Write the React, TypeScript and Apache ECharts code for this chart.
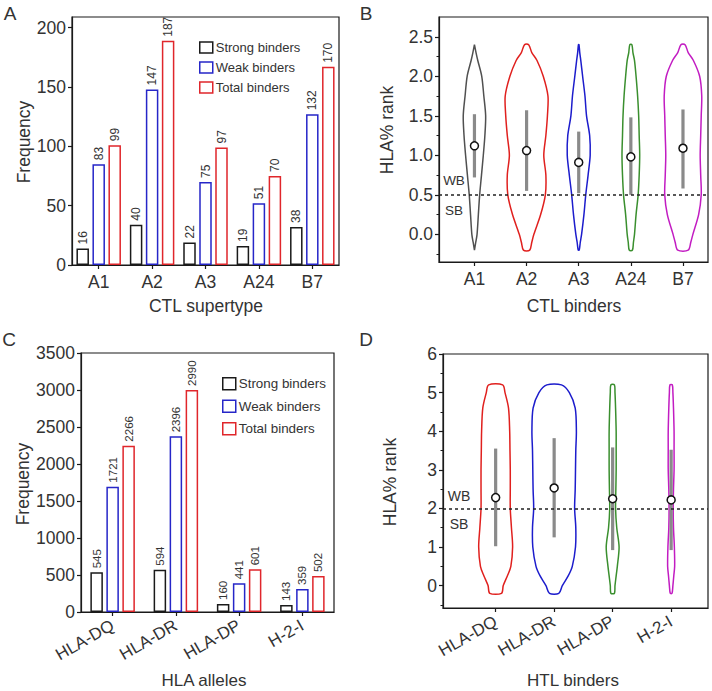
import React, { useEffect, useRef } from "react";
import * as echarts from "echarts";

// ---------- Panel A data ----------
const ctlCategories = ["A1", "A2", "A3", "A24", "B7"];
const ctlStrongBars = [14, 34, 19, 16, 32];
const ctlWeakBars = [85, 148, 70, 52, 127];
const ctlTotalBars = [101, 189, 99, 75, 167];
const ctlStrongLabels = [16, 40, 22, 19, 38];
const ctlWeakLabels = [83, 147, 75, 51, 132];
const ctlTotalLabels = [99, 187, 97, 70, 170];
const ctlFreqTicks = [0, 50, 100, 150, 200];

// ---------- Panel C data ----------
const htlCategories = ["HLA-DQ", "HLA-DR", "HLA-DP", "H-2-I"];
const htlStrongBars = [536, 572, 108, 95];
const htlWeakBars = [1694, 2374, 388, 311];
const htlTotalBars = [2248, 3000, 577, 486];
const htlStrongLabels = [545, 594, 160, 143];
const htlWeakLabels = [1721, 2396, 441, 359];
const htlTotalLabels = [2266, 2990, 601, 502];

// ---------- Panel B data (violins) ----------
const ctlRankTicks = [0, 0.5, 1, 1.5, 2, 2.5];
const ctlRankMinorTicks = [-0.25, 0.25, 0.75, 1.25, 1.75, 2.25];
const ctlViolinLevels = [-0.2, -0.1, 0, 0.25, 0.5, 0.75, 1.0, 1.25, 1.5, 1.75, 2.0, 2.2, 2.3, 2.4];
const a1Half = [0, 0.025, 0.05, 0.075, 0.1, 0.135, 0.17, 0.2, 0.215, 0.18, 0.14, 0.064, 0.03, 0];
const a2Half = [0.06, 0.1, 0.14, 0.27, 0.36, 0.37, 0.33, 0.37, 0.4, 0.41, 0.32, 0.2, 0.1, 0.04];
const a3Half = [0.01, 0.03, 0.055, 0.1, 0.135, 0.18, 0.22, 0.21, 0.15, 0.12, 0.075, 0.04, 0.02, 0.005];
const a24Half = [0.03, 0.05, 0.07, 0.1, 0.14, 0.16, 0.17, 0.16, 0.15, 0.13, 0.1, 0.07, 0.04, 0.02];
const b7Half = [0.1, 0.15, 0.19, 0.3, 0.35, 0.34, 0.33, 0.34, 0.35, 0.36, 0.32, 0.2, 0.1, 0.04];
const ctlViolinHalves = [a1Half, a2Half, a3Half, a24Half, b7Half];
const ctlViolinColors = ["#505050", "#e0201e", "#1c1ccc", "#3a8f2e", "#c21cc2"];
const ctlBoxLow = [0.72, 0.55, 0.52, 0.5, 0.58];
const ctlBoxHigh = [1.52, 1.57, 1.3, 1.48, 1.58];
const ctlMedian = [1.12, 1.06, 0.91, 0.98, 1.09];
const ctlThreshold = 0.5;

// ---------- Panel D data (violins) ----------
const htlRankTicks = [0, 1, 2, 3, 4, 5, 6];
const htlRankMinorTicks = [-0.5, 0.5, 1.5, 2.5, 3.5, 4.5, 5.5];
const htlViolinLevels = [-0.2, 0, 0.25, 0.5, 1, 1.5, 2, 2.5, 3, 3.5, 4, 4.6, 5.0, 5.2];
const dqHalf = [0.1, 0.13, 0.2, 0.26, 0.29, 0.27, 0.25, 0.25, 0.25, 0.245, 0.24, 0.22, 0.16, 0.12];
const drHalf = [0.08, 0.14, 0.24, 0.31, 0.365, 0.37, 0.35, 0.36, 0.365, 0.37, 0.38, 0.36, 0.26, 0.125];
const dpHalf = [0.03, 0.04, 0.06, 0.08, 0.11, 0.07, 0.05, 0.055, 0.06, 0.06, 0.06, 0.05, 0.04, 0.03];
const h2iHalf = [0.015, 0.03, 0.045, 0.06, 0.055, 0.04, 0.035, 0.04, 0.05, 0.05, 0.05, 0.04, 0.03, 0.02];
const htlViolinHalves = [dqHalf, drHalf, dpHalf, h2iHalf];
const htlViolinColors = ["#e0201e", "#1c1ccc", "#3a8f2e", "#c21cc2"];
const htlBoxLow = [1.02, 1.25, 0.92, 0.92];
const htlBoxHigh = [3.55, 3.82, 3.58, 3.52];
const htlMedian = [2.28, 2.53, 2.25, 2.22];
const htlThreshold = 2;

const FONT = '"Liberation Sans", Arial, sans-serif';
const TXT = "#333";
const AX = "#1a1a1a";
const STRONG = "#1a1a1a";
const WEAK = "#2626c8";
const TOTAL = "#e0262b";
const TICK_FS = 17.5;
const TITLE_FS = 17.5;

function barSeries(name: string, color: string, data: number[], labels: number[], xi: number, fs: number) {
  return {
    type: "bar",
    name,
    xAxisIndex: xi,
    yAxisIndex: xi,
    data,
    barWidth: 12.5,
    barGap: "28%",
    itemStyle: { color: "#fff", borderColor: color, borderWidth: 1.5 },
    label: {
      show: true,
      position: "top",
      rotate: 90,
      align: "left",
      verticalAlign: "middle",
      distance: 4,
      fontSize: fs,
      fontFamily: FONT,
      color: TXT,
      formatter: (p: any) => String(labels[p.dataIndex]),
    },
  };
}

function violinSeries(
  xi: number,
  levels: number[],
  halves: number[][],
  colors: string[],
  low: number[],
  high: number[],
  med: number[],
  threshold: number
) {
  return {
    type: "custom",
    coordinateSystem: "cartesian2d",
    xAxisIndex: xi,
    yAxisIndex: xi,
    data: med.map((m, i) => [i + 1, m]),
    renderItem: (params: any, api: any) => {
      const i = params.dataIndex;
      const x = i + 1;
      const h = halves[i];
      const pts: number[][] = [];
      for (let k = 0; k < levels.length; k++) pts.push(api.coord([x + h[k], levels[k]]));
      for (let k = levels.length - 1; k >= 0; k--) pts.push(api.coord([x - h[k], levels[k]]));
      const b0 = api.coord([x, low[i]]);
      const b1 = api.coord([x, high[i]]);
      const c = api.coord([x, med[i]]);
      return {
        type: "group",
        children: [
          {
            type: "polygon",
            shape: { points: pts, smooth: 0.3 },
            style: { fill: "transparent", stroke: colors[i], lineWidth: 1.5 },
          },
          {
            type: "line",
            shape: { x1: b0[0], y1: b0[1], x2: b1[0], y2: b1[1] },
            style: { stroke: "#8a8a8a", lineWidth: 3.2 },
          },
          {
            type: "circle",
            shape: { cx: c[0], cy: c[1], r: 4 },
            style: { fill: "#fff", stroke: "#111", lineWidth: 1.5 },
          },
        ],
      };
    },
    markLine: {
      silent: true,
      symbol: "none",
      label: { show: false },
      lineStyle: { type: [3, 3], color: "#222", width: 1.5 },
      data: [{ yAxis: threshold }],
    },
  };
}

function txt(text: string, x: number, y: number, size: number, rot = 0, align = "center") {
  return {
    type: "text",
    x,
    y,
    rotation: rot,
    style: {
      text,
      fill: TXT,
      fontSize: size,
      fontFamily: FONT,
      textAlign: align,
      textVerticalAlign: "middle",
      align,
      verticalAlign: "middle",
    },
  };
}

const axisLineStyle = { show: true, onZero: false, lineStyle: { color: AX, width: 1.2 } };
const tickStyle = { show: true, length: 4, lineStyle: { color: AX, width: 1.2 } };
const labelStyle = { fontSize: TICK_FS, fontFamily: FONT, color: TXT };

export default function App() {
  const ref = useRef<HTMLDivElement>(null);
  useEffect(() => {
    if (!ref.current) return;
    const chart = echarts.init(ref.current, null, { renderer: "svg" });
    const gridBase = { show: true, borderColor: AX, borderWidth: 1.2, backgroundColor: "transparent", containLabel: false };
    const minorAxis = (gi: number, min: number, max: number, vals: number[]) => ({
      gridIndex: gi,
      type: "value",
      position: "left",
      offset: 0,
      min,
      max,
      axisLine: { show: false },
      axisTick: { show: true, length: 2.5, lineStyle: { color: AX, width: 1 }, customValues: vals },
      axisLabel: { show: false },
      splitLine: { show: false },
    });
    const option: any = {
      animation: false,
      backgroundColor: "#fff",
      grid: [
        { ...gridBase, left: 72, top: 17, width: 267, height: 248 },
        { ...gridBase, left: 439, top: 17, width: 269, height: 245 },
        { ...gridBase, left: 81, top: 353, width: 253, height: 259 },
        { ...gridBase, left: 443, top: 354, width: 265, height: 254 },
      ],
      xAxis: [
        {
          gridIndex: 0,
          type: "category",
          data: ctlCategories,
          axisLine: axisLineStyle,
          axisTick: { ...tickStyle, alignWithLabel: true },
          axisLabel: { ...labelStyle, margin: 8 },
          splitLine: { show: false },
        },
        {
          gridIndex: 1,
          type: "value",
          min: 0.32,
          max: 5.48,
          axisLine: axisLineStyle,
          axisTick: { ...tickStyle, customValues: [1, 2, 3, 4, 5] },
          axisLabel: {
            ...labelStyle,
            margin: 8,
            customValues: [1, 2, 3, 4, 5],
            formatter: (v: number) => ctlCategories[Math.round(v) - 1] || "",
          },
          splitLine: { show: false },
        },
        {
          gridIndex: 2,
          type: "category",
          data: htlCategories,
          axisLine: axisLineStyle,
          axisTick: { ...tickStyle, alignWithLabel: true },
          axisLabel: { ...labelStyle, fontSize: 17, rotate: 30, margin: 12 },
          splitLine: { show: false },
        },
        {
          gridIndex: 3,
          type: "value",
          min: 0.1,
          max: 4.63,
          axisLine: axisLineStyle,
          axisTick: { ...tickStyle, customValues: [1, 2, 3, 4] },
          axisLabel: {
            ...labelStyle,
            fontSize: 17,
            rotate: 30,
            margin: 12,
            customValues: [1, 2, 3, 4],
            formatter: (v: number) => htlCategories[Math.round(v) - 1] || "",
          },
          splitLine: { show: false },
        },
      ],
      yAxis: [
        {
          gridIndex: 0,
          type: "value",
          position: "left",
          min: 0,
          max: 209,
          axisLine: axisLineStyle,
          axisTick: { ...tickStyle, customValues: ctlFreqTicks },
          axisLabel: { ...labelStyle, margin: 6, customValues: ctlFreqTicks },
          splitLine: { show: false },
        },
        {
          gridIndex: 1,
          type: "value",
          position: "left",
          min: -0.35,
          max: 2.75,
          axisLine: axisLineStyle,
          axisTick: { ...tickStyle, customValues: ctlRankTicks },
          axisLabel: {
            ...labelStyle,
            margin: 6,
            customValues: ctlRankTicks,
            formatter: (v: number) => v.toFixed(1),
          },
          splitLine: { show: false },
        },
        {
          gridIndex: 2,
          type: "value",
          position: "left",
          min: 0,
          max: 3500,
          interval: 500,
          axisLine: axisLineStyle,
          axisTick: tickStyle,
          axisLabel: { ...labelStyle, margin: 6, formatter: (v: number) => String(v) },
          splitLine: { show: false },
        },
        {
          gridIndex: 3,
          type: "value",
          position: "left",
          min: -0.58,
          max: 6,
          axisLine: axisLineStyle,
          axisTick: { ...tickStyle, customValues: htlRankTicks },
          axisLabel: { ...labelStyle, margin: 6, customValues: htlRankTicks, formatter: (v: number) => String(v) },
          splitLine: { show: false },
        },
        minorAxis(1, -0.35, 2.75, ctlRankMinorTicks),
        minorAxis(3, -0.58, 6, htlRankMinorTicks),
      ],
      legend: [
        {
          left: 194,
          top: 36,
          orient: "vertical",
          itemWidth: 13,
          itemHeight: 11,
          itemGap: 7,
          icon: "rect",
          data: ["Strong binders", "Weak binders", "Total binders"],
          textStyle: { fontSize: 13, fontFamily: FONT, color: TXT, padding: [0, 0, 0, -2] },
          itemStyle: { borderWidth: 1.5 },
          selectedMode: false,
        },
        {
          left: 217,
          top: 372,
          orient: "vertical",
          itemWidth: 13,
          itemHeight: 12,
          itemGap: 9,
          icon: "rect",
          data: ["Strong binders", "Weak binders", "Total binders"],
          textStyle: { fontSize: 13.4, fontFamily: FONT, color: TXT, padding: [0, 0, 0, -2] },
          itemStyle: { borderWidth: 1.5 },
          selectedMode: false,
        },
      ],
      series: [
        barSeries("Strong binders", STRONG, ctlStrongBars, ctlStrongLabels, 0, 12),
        barSeries("Weak binders", WEAK, ctlWeakBars, ctlWeakLabels, 0, 12),
        barSeries("Total binders", TOTAL, ctlTotalBars, ctlTotalLabels, 0, 12),
        barSeries("Strong binders", STRONG, htlStrongBars, htlStrongLabels, 2, 11.5),
        barSeries("Weak binders", WEAK, htlWeakBars, htlWeakLabels, 2, 11.5),
        barSeries("Total binders", TOTAL, htlTotalBars, htlTotalLabels, 2, 11.5),
        violinSeries(1, ctlViolinLevels, ctlViolinHalves, ctlViolinColors, ctlBoxLow, ctlBoxHigh, ctlMedian, ctlThreshold),
        violinSeries(3, htlViolinLevels, htlViolinHalves, htlViolinColors, htlBoxLow, htlBoxHigh, htlMedian, htlThreshold),
      ],
      graphic: [
        txt("A", 10, 13, 19, 0, "center"),
        txt("B", 366, 13, 19, 0, "center"),
        txt("C", 9, 339, 19, 0, "center"),
        txt("D", 366, 339, 19, 0, "center"),
        txt("Frequency", 24, 142, TITLE_FS, Math.PI / 2),
        txt("CTL supertype", 206, 306, TITLE_FS),
        txt("HLA% rank", 387, 130, TITLE_FS, Math.PI / 2),
        txt("CTL binders", 574, 306, TITLE_FS),
        txt("Frequency", 23, 484, TITLE_FS, Math.PI / 2),
        txt("HLA alleles", 204, 680, 17),
        txt("HLA% rank", 390, 482, TITLE_FS, Math.PI / 2),
        txt("HTL binders", 573, 680, 17),
        txt("WB", 454, 180, 13.5),
        txt("SB", 454, 210, 13.5),
        txt("WB", 459, 496, 14),
        txt("SB", 459, 524, 14),
      ],
    };
    chart.setOption(option);
    return () => chart.dispose();
  }, []);
  return (
    <div
      ref={ref}
      style={{ position: "absolute", left: 0, top: 0, width: 712, height: 691 }}
    />
  );
}
